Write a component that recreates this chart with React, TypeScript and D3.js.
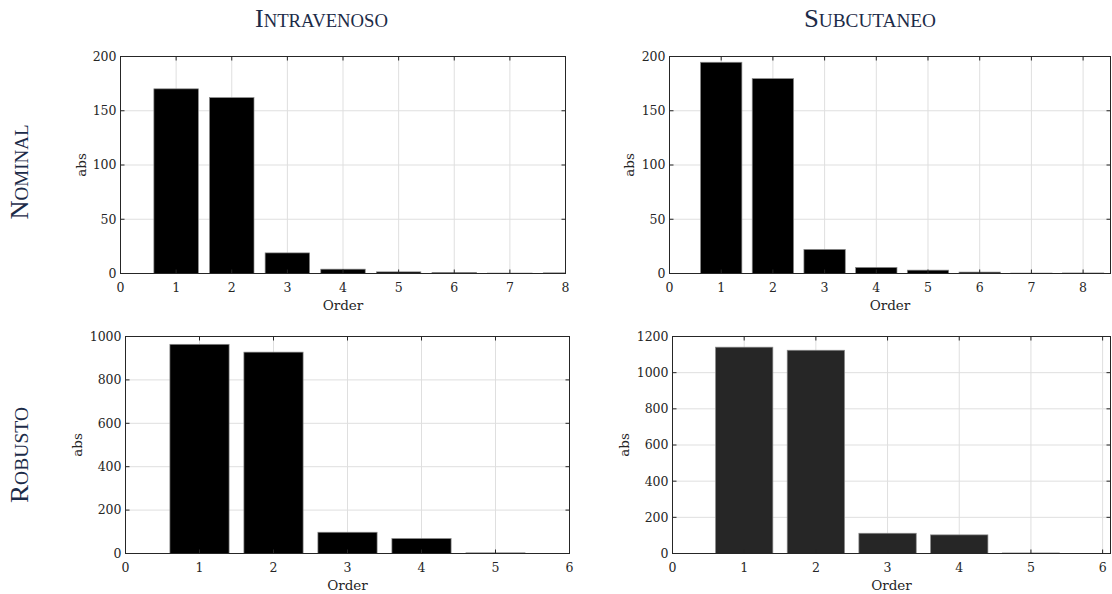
import React from "react";
import * as d3 from "d3";

const ordersNominal = [1, 2, 3, 4, 5, 6, 7, 8];
const ordersRobust = [1, 2, 3, 4, 5];
const ivNominal = [170.2, 162.1, 19.0, 4.0, 1.5, 1.0, 0.4, 0.6];
const scNominal = [194.7, 179.6, 22.2, 5.6, 3.1, 1.3, 0.4, 0.5];
const ivRobust = [964, 928, 98, 69, 3];
const scRobust = [1141, 1124, 112, 103, 3];
const xTicksNominal = [0, 1, 2, 3, 4, 5, 6, 7, 8];
const xTicksRobust = [0, 1, 2, 3, 4, 5, 6];
const yTicksNominal = [0, 50, 100, 150, 200];
const yTicksIvRobust = [0, 200, 400, 600, 800, 1000];
const yTicksScRobust = [0, 200, 400, 600, 800, 1000, 1200];
const colTitles = ["Intravenoso", "Subcutaneo"];
const rowTitles = ["Nominal", "Robusto"];

const AX = "#262626";
const GRID = "#dfdfdf";
const FONT = "'DejaVu Serif', serif";
const TITLE_FONT = "'Liberation Serif', serif";
const NAVY = "#1c2b48";

type PanelProps = {
  id: string;
  left: number;
  right: number;
  top: number;
  bottom: number;
  xMax: number;
  yMax: number;
  xTicks: number[];
  yTicks: number[];
  cats: number[];
  values: number[];
  fill: string;
  ylabelX: number;
};

function Panel(p: PanelProps) {
  const x = d3.scaleLinear().domain([0, p.xMax]).range([p.left, p.right]);
  const y = d3.scaleLinear().domain([0, p.yMax]).range([p.bottom, p.top]);
  const bw = x(0.8) - x(0);
  const tl = 4;
  return (
    <g>
      <defs>
        <clipPath id={p.id}>
          <rect x={p.left} y={p.top} width={p.right - p.left} height={p.bottom - p.top} />
        </clipPath>
      </defs>
      <rect x={p.left} y={p.top} width={p.right - p.left} height={p.bottom - p.top} fill="#fff" />
      {p.xTicks.map((t) => (
        <line key={"gx" + t} x1={x(t)} x2={x(t)} y1={p.top} y2={p.bottom} stroke={GRID} strokeWidth={1} />
      ))}
      {p.yTicks.map((t) => (
        <line key={"gy" + t} x1={p.left} x2={p.right} y1={y(t)} y2={y(t)} stroke={GRID} strokeWidth={1} />
      ))}
      <g clipPath={`url(#${p.id})`}>
        {p.cats.map((c, i) => (
          <rect
            key={"b" + c}
            x={x(c) - bw / 2}
            y={y(p.values[i])}
            width={bw}
            height={y(0) - y(p.values[i])}
            fill={p.fill}
            stroke="#8a8a8a"
            strokeWidth={0.7}
          />
        ))}
      </g>
      {p.xTicks.map((t) => (
        <g key={"tx" + t}>
          <line x1={x(t)} x2={x(t)} y1={p.bottom} y2={p.bottom - tl} stroke={AX} />
          <line x1={x(t)} x2={x(t)} y1={p.top} y2={p.top + tl} stroke={AX} />
          <text x={x(t)} y={p.bottom + 18} textAnchor="middle" fontFamily={FONT} fontSize={12.5} fill={AX}>
            {t}
          </text>
        </g>
      ))}
      {p.yTicks.map((t) => (
        <g key={"ty" + t}>
          <line x1={p.left} x2={p.left + tl} y1={y(t)} y2={y(t)} stroke={AX} />
          <line x1={p.right} x2={p.right - tl} y1={y(t)} y2={y(t)} stroke={AX} />
          <text x={p.left - 4} y={y(t)} dy="0.35em" textAnchor="end" fontFamily={FONT} fontSize={12.5} fill={AX}>
            {t}
          </text>
        </g>
      ))}
      <rect x={p.left} y={p.top} width={p.right - p.left} height={p.bottom - p.top} fill="none" stroke={AX} strokeWidth={1} />
      <text x={(p.left + p.right) / 2} y={p.bottom + 36} textAnchor="middle" fontFamily={FONT} fontSize={13.5} fill={AX}>
        Order
      </text>
      <text
        transform={`translate(${p.ylabelX},${(p.top + p.bottom) / 2}) rotate(-90)`}
        textAnchor="middle"
        fontFamily={FONT}
        fontSize={13.5}
        fill={AX}
      >
        abs
      </text>
    </g>
  );
}

const colX = [321.5, 870];
const colW = [133, 132];
const rowY = [172, 455];
const rowW = [95, 96];

export default function App() {
  return (
    <svg width={1112} height={594} style={{ position: "absolute", left: 0, top: 0, background: "#fff" }}>
      <Panel id="c1" left={120.5} right={565.5} top={56.5} bottom={273.5} xMax={8} yMax={200}
        xTicks={xTicksNominal} yTicks={yTicksNominal} cats={ordersNominal} values={ivNominal} fill="#000" ylabelX={86} />
      <Panel id="c2" left={669.5} right={1110.5} top={56.5} bottom={273.5} xMax={8.53} yMax={200}
        xTicks={xTicksNominal} yTicks={yTicksNominal} cats={ordersNominal} values={scNominal} fill="#000" ylabelX={634} />
      <Panel id="c3" left={125.5} right={569.5} top={336.5} bottom={553.5} xMax={6} yMax={1000}
        xTicks={xTicksRobust} yTicks={yTicksIvRobust} cats={ordersRobust} values={ivRobust} fill="#000" ylabelX={82} />
      <Panel id="c4" left={672.5} right={1110.5} top={336.5} bottom={553.5} xMax={6.11} yMax={1200}
        xTicks={xTicksRobust} yTicks={yTicksScRobust} cats={ordersRobust} values={scRobust} fill="#262626" ylabelX={629} />
      {colTitles.map((t, i) => (
        <text key={t} x={colX[i]} y={27} textAnchor="middle" fontFamily={TITLE_FONT}
          fontSize={25} fill={NAVY} textLength={colW[i]} lengthAdjust="spacingAndGlyphs"
          style={{ fontVariant: "small-caps" }}>
          {t}
        </text>
      ))}
      {rowTitles.map((t, i) => (
        <text key={t} transform={`translate(28,${rowY[i]}) rotate(-90)`} textAnchor="middle"
          fontFamily={TITLE_FONT} fontSize={25} fill={NAVY} textLength={rowW[i]} lengthAdjust="spacingAndGlyphs"
          style={{ fontVariant: "small-caps" }}>
          {t}
        </text>
      ))}
    </svg>
  );
}
